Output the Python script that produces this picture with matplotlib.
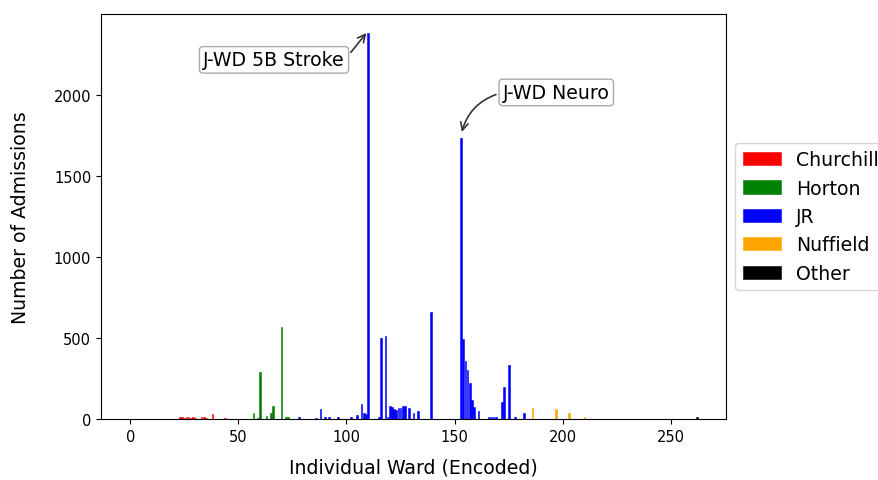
import matplotlib
matplotlib.use('Agg')
from matplotlib import pyplot as plt

# admissions per encoded ward, split by hospital
churchill_wards = [23, 24, 25, 26, 27, 28, 29, 30, 33, 34, 35, 38, 44]
churchill_adm = [10, 12, 8, 10, 12, 9, 10, 8, 10, 12, 8, 32, 8]

horton_wards = [57, 59, 60, 63, 65, 66, 70, 72, 73]
horton_adm = [40, 8, 290, 20, 35, 80, 565, 10, 10]

jr_wards = [78, 86, 88, 90, 92, 96, 102, 105, 107, 108, 109, 110,
            115, 116, 118, 119, 120, 121, 122, 123, 124, 125, 126, 127,
            129, 131, 133, 139, 153, 154, 155, 156, 157, 158, 159, 161,
            166, 167, 168, 169, 172, 173, 175, 178, 182]
jr_adm = [10, 8, 60, 10, 10, 10, 10, 25, 93, 35, 30, 2380,
          10, 497, 510, 15, 80, 72, 60, 55, 65, 65, 82, 82,
          70, 35, 47, 658, 1735, 495, 360, 300, 220, 115, 72, 50,
          10, 10, 10, 10, 105, 200, 335, 10, 35]

nuffield_wards = [186, 197, 203, 210]
nuffield_adm = [70, 60, 35, 10]

other_wards = [262]
other_adm = [10]

fs = 13.6

fig = plt.figure(dpi=100, figsize=(8.79, 4.81))
ax = fig.add_axes([0.1149, 0.1268, 0.7111, 0.842])

for wards, adm, c, name in [(churchill_wards, churchill_adm, 'red', 'Churchill'),
                            (horton_wards, horton_adm, 'green', 'Horton'),
                            (jr_wards, jr_adm, 'blue', 'JR'),
                            (nuffield_wards, nuffield_adm, 'orange', 'Nuffield'),
                            (other_wards, other_adm, 'black', 'Other')]:
    ax.bar(wards, adm, color=c, edgecolor=c, linewidth=0.4, label=name)

ax.set_xlim(-13.5, 275.5)

box = dict(boxstyle='round,pad=0.2', fc='white', ec='#aaaaaa')
ax.annotate('J-WD 5B Stroke', xy=(110, 2395), xytext=(66.5, 2216),
            ha='center', va='center', fontsize=fs, bbox=box,
            arrowprops=dict(arrowstyle='->', color='#333333', lw=1.2,
                            relpos=(1, 0.5)))
ax.annotate('J-WD Neuro', xy=(153, 1755), xytext=(197, 2015),
            ha='center', va='center', fontsize=fs, bbox=box,
            arrowprops=dict(arrowstyle='->', color='#333333', lw=1.2,
                            relpos=(0, 0.5),
                            connectionstyle='arc3,rad=0.3'))

ax.set_xlabel('Individual Ward (Encoded)', fontsize=fs, labelpad=10)
ax.set_ylabel('Number of Admissions', fontsize=fs, labelpad=17)
ax.tick_params(axis='both', which='major', labelsize=10.5)
ax.legend(loc='center left', bbox_to_anchor=(1, 0.5), fontsize=fs)

plt.savefig('out.png')
